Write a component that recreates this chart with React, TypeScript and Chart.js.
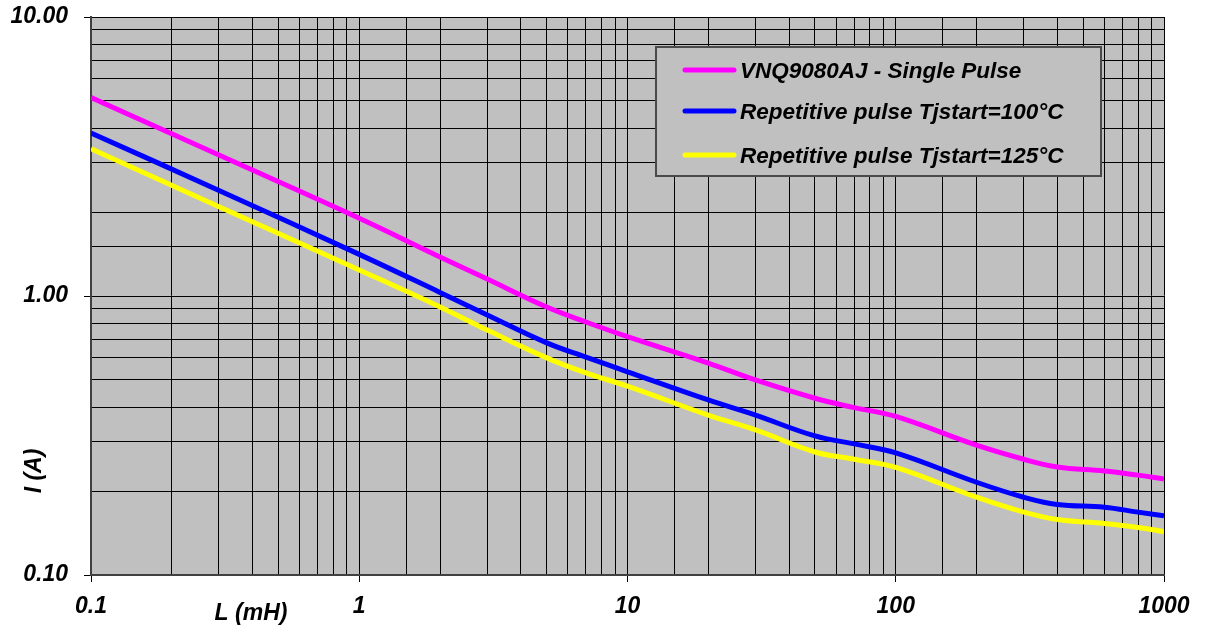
import React, { useEffect, useRef } from 'react';
import { Chart, registerables } from 'chart.js';

Chart.register(...registerables);

// ---- Data ----
const inductanceMH = [0.1, 0.3, 1, 2, 3, 5, 7, 10, 20, 30, 50, 70, 100, 200, 300, 400, 600, 800, 1000];
const singlePulse = [5.15, 3.2, 1.9, 1.38, 1.15, 0.913, 0.807, 0.715, 0.575, 0.5, 0.43, 0.398, 0.37, 0.292, 0.26, 0.244, 0.236, 0.228, 0.221];
const repetitive100 = [3.84, 2.39, 1.41, 1.03, 0.855, 0.679, 0.604, 0.535, 0.424, 0.374, 0.315, 0.295, 0.274, 0.215, 0.19, 0.179, 0.175, 0.168, 0.163];
const repetitive125 = [3.37, 2.09, 1.24, 0.914, 0.755, 0.6, 0.53, 0.475, 0.374, 0.331, 0.276, 0.26, 0.243, 0.19, 0.168, 0.158, 0.153, 0.148, 0.143];

const seriesLabels = ['VNQ9080AJ - Single Pulse', 'Repetitive pulse Tjstart=100°C', 'Repetitive pulse Tjstart=125°C'];
const seriesColors = ['#FF00FF', '#0000FF', '#FFFF00'];
const seriesValues = [singlePulse, repetitive100, repetitive125];

const xMajorValues = [0.1, 1, 10, 100, 1000];
const xMajorLabels = ['0.1', '1', '10', '100', '1000'];
const yMajorValues = [0.1, 1, 10];
const yMajorLabels = ['0.10', '1.00', '10.00'];

const xAxisTitle = 'L (mH)';
const yAxisTitle = 'I (A)';

const FONT_FAMILY = 'Arial, "Liberation Sans", sans-serif';
const FONT_SIZE = 23;

function majorIndex(values: number[], v: number): number {
  for (let i = 0; i < values.length; i++) {
    if (Math.abs(values[i] - v) / values[i] < 1e-6) return i;
  }
  return -1;
}

const plotBackground = {
  id: 'plotBackground',
  beforeDraw(chart: any) {
    const { ctx, chartArea } = chart;
    ctx.save();
    ctx.fillStyle = '#C0C0C0';
    ctx.fillRect(chartArea.left, chartArea.top, chartArea.right - chartArea.left, chartArea.bottom - chartArea.top);
    ctx.restore();
  },
};

const overlay = {
  id: 'overlay',
  afterDraw(chart: any) {
    const { ctx } = chart;
    ctx.save();
    // axis titles
    ctx.fillStyle = '#000';
    ctx.font = `italic bold ${FONT_SIZE}px ${FONT_FAMILY}`;
    ctx.textAlign = 'center';
    ctx.textBaseline = 'middle';
    ctx.fillText(xAxisTitle, 251, 614);
    ctx.save();
    ctx.translate(35, 471);
    ctx.rotate(-Math.PI / 2);
    ctx.fillText(yAxisTitle, 0, 0);
    ctx.restore();

    // legend box
    const bx = 656, by = 47, bw = 445, bh = 129;
    ctx.fillStyle = '#C0C0C0';
    ctx.fillRect(bx, by, bw, bh);
    ctx.strokeStyle = '#4a4a4a';
    ctx.lineWidth = 2;
    ctx.strokeRect(bx, by, bw, bh);
    const rowCenters = [70, 111, 155];
    chart.data.datasets.forEach((ds: any, i: number) => {
      const cy = rowCenters[i];
      ctx.strokeStyle = ds.borderColor;
      ctx.lineWidth = 5;
      ctx.lineCap = 'round';
      ctx.beginPath();
      ctx.moveTo(685, cy);
      ctx.lineTo(734, cy);
      ctx.stroke();
      ctx.fillStyle = '#000';
      ctx.font = `italic bold 22.5px ${FONT_FAMILY}`;
      ctx.textAlign = 'left';
      ctx.textBaseline = 'alphabetic';
      ctx.fillText(ds.label, 740, cy + 7.5);
    });
    ctx.restore();
  },
};

export default function App() {
  const canvasRef = useRef<HTMLCanvasElement | null>(null);

  useEffect(() => {
    if (!canvasRef.current) return;
    const chart = new Chart(canvasRef.current, {
      type: 'line',
      data: {
        datasets: seriesValues.map((vals, i) => ({
          label: seriesLabels[i],
          data: inductanceMH.map((x, j) => ({ x, y: vals[j] })),
          borderColor: seriesColors[i],
          backgroundColor: seriesColors[i],
          borderWidth: 5,
          pointRadius: 0,
          tension: 0.4,
          fill: false,
        })),
      },
      options: {
        animation: false,
        responsive: true,
        maintainAspectRatio: false,
        layout: { padding: { top: 17, right: 41, left: 0, bottom: 0 } },
        plugins: {
          legend: { display: false },
          tooltip: { enabled: false },
        },
        scales: {
          x: {
            type: 'logarithmic',
            min: 0.1,
            max: 1000,
            afterFit: (scale: any) => {
              scale.height = 55;
              scale.paddingLeft = 0;
              scale.paddingRight = 0;
            },
            border: { display: true, color: '#404040', width: 2 },
            grid: {
              color: '#000',
              lineWidth: 1,
              drawTicks: true,
              tickLength: 7,
              tickColor: (c: any) => (c.tick && majorIndex(xMajorValues, c.tick.value) >= 0 ? '#000' : 'rgba(0,0,0,0)'),
            },
            ticks: {
              autoSkip: false,
              maxRotation: 0,
              minRotation: 0,
              padding: 11,
              color: '#000',
              font: { family: FONT_FAMILY, size: FONT_SIZE, style: 'italic', weight: 'bold' },
              callback: (v: any) => {
                const k = majorIndex(xMajorValues, Number(v));
                return k >= 0 ? xMajorLabels[k] : '';
              },
            },
          },
          y: {
            type: 'logarithmic',
            min: 0.1,
            max: 10,
            afterFit: (scale: any) => {
              scale.width = 91;
              scale.paddingTop = 0;
              scale.paddingBottom = 0;
            },
            border: { display: true, color: '#404040', width: 2 },
            grid: {
              color: '#000',
              lineWidth: 1,
              drawTicks: true,
              tickLength: 7,
              tickColor: (c: any) => (c.tick && majorIndex(yMajorValues, c.tick.value) >= 0 ? '#000' : 'rgba(0,0,0,0)'),
            },
            ticks: {
              autoSkip: false,
              padding: 16,
              color: '#000',
              font: { family: FONT_FAMILY, size: FONT_SIZE, style: 'italic', weight: 'bold' },
              callback: (v: any) => {
                const k = majorIndex(yMajorValues, Number(v));
                return k >= 0 ? yMajorLabels[k] : '';
              },
            },
          },
        },
      } as any,
      plugins: [plotBackground, overlay],
    });
    return () => chart.destroy();
  }, []);

  return (
    <div style={{ position: 'absolute', left: 0, top: 0, width: 1205, height: 630, background: '#fff' }}>
      <canvas ref={canvasRef} />
    </div>
  );
}
